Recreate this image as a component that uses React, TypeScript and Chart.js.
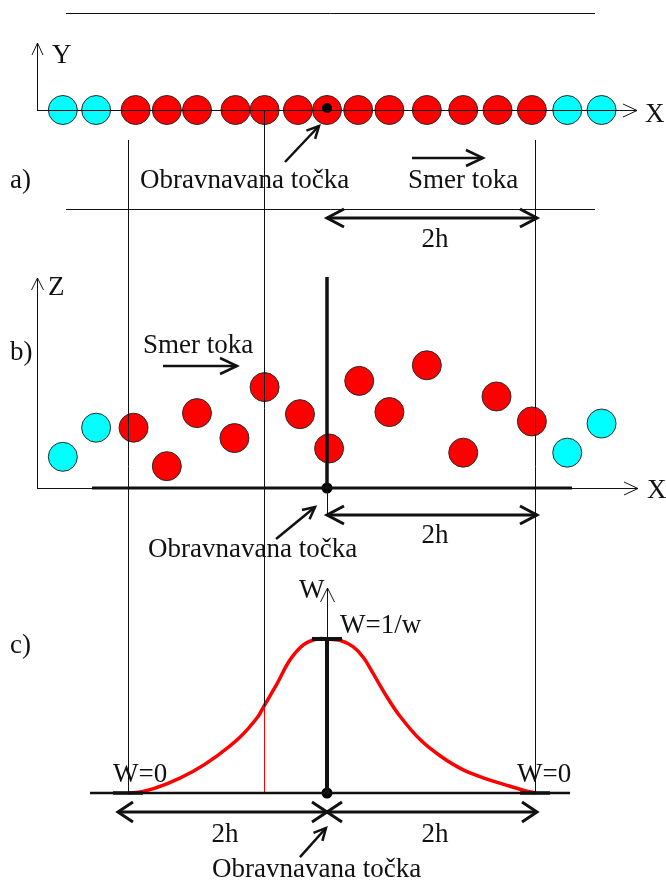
import { useEffect, useRef } from "react";
import { Chart, registerables } from "chart.js";

Chart.register(...registerables);

// Distances are in units of the smoothing length h; the evaluated point sits at x = 0.

// a) particles lying on the X axis
const lineParticlesX = [-2.54, -2.22, -1.84, -1.54, -1.25, -0.88, -0.6, -0.28, 0, 0.3, 0.6, 0.96, 1.31, 1.64, 1.97, 2.31, 2.64];

// b) particles scattered in the X–Z plane
const planeParticlesX = [-2.54, -2.22, -1.86, -1.54, -1.25, -0.89, -0.6, -0.26, 0.02, 0.31, 0.6, 0.96, 1.31, 1.63, 1.97, 2.31, 2.64];
const planeParticlesZ = [0.3, 0.58, 0.58, 0.21, 0.72, 0.48, 0.97, 0.71, 0.38, 1.03, 0.73, 1.18, 0.34, 0.88, 0.64, 0.34, 0.62];

// c) smoothing kernel W(x), normalised so that the peak equals 1/w
const kernelX = [-1.91, -1.77, -1.54, -1.29, -1.06, -0.84, -0.67, -0.61, -0.48, -0.36, -0.23, -0.1, 0, 0.13, 0.25, 0.35, 0.44, 0.58, 0.7, 0.89, 1.09, 1.31, 1.54, 1.73, 1.88, 2.0];
const kernelW = [0, 0.01, 0.06, 0.14, 0.24, 0.36, 0.49, 0.56, 0.71, 0.86, 0.96, 1.0, 1.0, 0.99, 0.95, 0.88, 0.78, 0.62, 0.5, 0.35, 0.24, 0.15, 0.09, 0.05, 0.02, 0];

// Support of the kernel and the extra guide line
const supportLeft = -1.91;
const supportRight = 2.0;
const innerGuideX = -0.61;

const RED = "#ff0000";
const CYAN = "#00ffff";
const INK = "#111111";
const FONT = '27px "Liberation Serif", "Times New Roman", serif';

type Panel = "a" | "b" | "c";
const panelScale: Record<Panel, string> = { a: "ya", b: "yb", c: "yc" };

type Seg = {
  p: Panel;
  x1: number; y1: number; x2: number; y2: number;
  w: number;
  head?: [number, number];
  both?: boolean;
};

const segments: Seg[] = [
  // a)
  { p: "a", x1: -2.51, y1: 0.933, x2: 2.577, y2: 0.933, w: 1 },
  { p: "a", x1: -2.51, y1: -0.952, x2: 2.577, y2: -0.952, w: 1 },
  { p: "a", x1: -2.788, y1: 0, x2: -2.788, y2: 0.644, w: 1, head: [12, 5.5] },
  { p: "a", x1: -2.788, y1: 0, x2: 2.981, y2: 0, w: 1, head: [14, 6.5] },
  { p: "a", x1: -0.404, y1: -0.5, x2: -0.077, y2: -0.154, w: 2.5, head: [12, 6] },
  { p: "a", x1: 0.817, y1: -0.462, x2: 1.5, y2: -0.462, w: 2.5, head: [17, 8] },
  { p: "a", x1: 0, y1: -1.038, x2: 2.019, y2: -1.038, w: 3, head: [17, 9], both: true },
  // b)
  { p: "b", x1: -2.788, y1: 0, x2: -2.788, y2: 2.019, w: 1, head: [12, 6] },
  { p: "b", x1: -2.788, y1: 0, x2: 2.99, y2: 0, w: 1, head: [14, 6.5] },
  { p: "b", x1: -2.26, y1: 0, x2: 2.356, y2: 0, w: 3 },
  { p: "b", x1: 0, y1: 0, x2: 0, y2: 2.029, w: 3.5 },
  { p: "b", x1: 0, y1: 0, x2: 0, y2: -0.26, w: 1 },
  { p: "b", x1: 0, y1: -0.26, x2: 2.019, y2: -0.26, w: 3, head: [17, 9], both: true },
  { p: "b", x1: -1.577, y1: 1.173, x2: -0.865, y2: 1.173, w: 2.5, head: [17, 8] },
  { p: "b", x1: -0.49, y1: -0.49, x2: -0.115, y2: -0.183, w: 2.5, head: [12, 6] },
  // c)
  { p: "c", x1: -2.279, y1: 0, x2: 2.337, y2: 0, w: 2.5 },
  { p: "c", x1: -2.058, y1: 0, x2: -1.769, y2: 0, w: 3.5 },
  { p: "c", x1: 1.856, y1: 0, x2: 2.144, y2: 0, w: 3.5 },
  { p: "c", x1: 0, y1: 0, x2: 0, y2: 1.331, w: 1, head: [14, 7] },
  { p: "c", x1: 0, y1: 0, x2: 0, y2: 1, w: 4 },
  { p: "c", x1: -0.144, y1: 1, x2: 0.144, y2: 1, w: 4 },
  { p: "c", x1: -2.01, y1: -0.123, x2: 0, y2: -0.123, w: 3, head: [15, 10], both: true },
  { p: "c", x1: 0, y1: -0.123, x2: 2.019, y2: -0.123, w: 3, head: [15, 10], both: true },
  { p: "c", x1: -0.26, y1: -0.416, x2: -0.01, y2: -0.227, w: 2.5, head: [12, 6] },
];

type Label = { p: Panel; x: number; y: number; t: string; center?: boolean };

const labels: Label[] = [
  { p: "a", x: -2.644, y: 0.452, t: "Y" },
  { p: "a", x: 3.058, y: -0.115, t: "X" },
  { p: "a", x: -3.048, y: -0.75, t: "a)" },
  { p: "a", x: -1.798, y: -0.75, t: "Obravnavana točka" },
  { p: "a", x: 0.779, y: -0.75, t: "Smer toka" },
  { p: "a", x: 1.038, y: -1.317, t: "2h", center: true },
  { p: "b", x: -2.683, y: 1.856, t: "Z" },
  { p: "b", x: 3.077, y: -0.096, t: "X" },
  { p: "b", x: -3.048, y: 1.231, t: "b)" },
  { p: "b", x: -1.769, y: 1.298, t: "Smer toka" },
  { p: "b", x: 1.038, y: -0.529, t: "2h", center: true },
  { p: "b", x: -1.721, y: -0.663, t: "Obravnavana točka" },
  { p: "c", x: -0.269, y: 1.266, t: "W" },
  { p: "c", x: 0.125, y: 1.039, t: "W=1/w" },
  { p: "c", x: -3.048, y: 0.909, t: "c)" },
  { p: "c", x: -2.058, y: 0.071, t: "W=0" },
  { p: "c", x: 1.827, y: 0.071, t: "W=0" },
  { p: "c", x: -0.981, y: -0.318, t: "2h", center: true },
  { p: "c", x: 1.038, y: -0.318, t: "2h", center: true },
  { p: "c", x: -1.106, y: -0.545, t: "Obravnavana točka" },
];

const particleColour = (x: number) => (x >= supportLeft && x <= supportRight ? RED : CYAN);

function drawHead(ctx: CanvasRenderingContext2D, fx: number, fy: number, tx: number, ty: number, len: number, half: number) {
  const dx = tx - fx;
  const dy = ty - fy;
  const d = Math.hypot(dx, dy) || 1;
  const ux = dx / d;
  const uy = dy / d;
  const bx = tx - ux * len;
  const by = ty - uy * len;
  ctx.beginPath();
  ctx.moveTo(bx - uy * half, by + ux * half);
  ctx.lineTo(tx, ty);
  ctx.lineTo(bx + uy * half, by - ux * half);
  ctx.stroke();
}

const diagramLayer = {
  id: "diagramLayer",
  afterDatasetsDraw(chart: any) {
    const ctx: CanvasRenderingContext2D = chart.ctx;
    const X = (v: number) => chart.scales.x.getPixelForValue(v);
    const Y = (p: Panel, v: number) => chart.scales[panelScale[p]].getPixelForValue(v);

    ctx.save();
    ctx.strokeStyle = INK;
    ctx.lineCap = "butt";
    ctx.lineJoin = "miter";

    // guide lines bounding the kernel support, running through all three panels
    const guideTop = -0.288;
    ctx.lineWidth = 1;
    for (const gx of [supportLeft, supportRight]) {
      ctx.beginPath();
      ctx.moveTo(Math.round(X(gx)) + 0.5, Y("a", guideTop));
      ctx.lineTo(Math.round(X(gx)) + 0.5, Y("c", 0));
      ctx.stroke();
    }
    const gi = Math.round(X(innerGuideX)) + 0.5;
    const wAtGuide = kernelW[kernelX.indexOf(innerGuideX)];
    ctx.beginPath();
    ctx.moveTo(gi, Y("a", 0));
    ctx.lineTo(gi, Y("c", wAtGuide));
    ctx.stroke();
    ctx.strokeStyle = RED;
    ctx.beginPath();
    ctx.moveTo(gi, Y("c", wAtGuide));
    ctx.lineTo(gi, Y("c", 0));
    ctx.stroke();
    ctx.strokeStyle = INK;

    for (const s of segments) {
      const x1 = X(s.x1), y1 = Y(s.p, s.y1), x2 = X(s.x2), y2 = Y(s.p, s.y2);
      ctx.lineWidth = s.w;
      const crisp = s.w === 1 ? 0.5 : 0;
      const sx1 = x1 === x2 ? Math.round(x1) + crisp : x1;
      const sy1 = y1 === y2 ? Math.round(y1) + crisp : y1;
      const sx2 = x1 === x2 ? Math.round(x2) + crisp : x2;
      const sy2 = y1 === y2 ? Math.round(y2) + crisp : y2;
      ctx.beginPath();
      ctx.moveTo(sx1, sy1);
      ctx.lineTo(sx2, sy2);
      ctx.stroke();
      if (s.head) {
        drawHead(ctx, sx1, sy1, sx2, sy2, s.head[0], s.head[1]);
        if (s.both) drawHead(ctx, sx2, sy2, sx1, sy1, s.head[0], s.head[1]);
      }
    }

    ctx.fillStyle = INK;
    ctx.font = FONT;
    ctx.textBaseline = "alphabetic";
    for (const l of labels) {
      ctx.textAlign = l.center ? "center" : "left";
      ctx.fillText(l.t, X(l.x), Y(l.p, l.y));
    }
    ctx.restore();
  },
};

export default function App() {
  const canvasRef = useRef<HTMLCanvasElement | null>(null);

  useEffect(() => {
    const canvas = canvasRef.current;
    if (!canvas) return;

    const particleStyle = {
      pointRadius: 14.5,
      pointBorderColor: "#2a2a2a",
      pointBorderWidth: 1,
      pointHoverRadius: 14.5,
    };

    const chart = new Chart(canvas, {
      type: "scatter",
      data: {
        datasets: [
          {
            label: "Obravnavana točka (a)",
            data: [{ x: 0, y: 0.02 }],
            yAxisID: "ya",
            pointRadius: 5,
            pointBackgroundColor: "#000",
            pointBorderColor: "#000",
            pointBorderWidth: 0,
            order: 1,
          },
          {
            label: "Obravnavana točka (b)",
            data: [{ x: 0, y: 0 }],
            yAxisID: "yb",
            pointRadius: 5.5,
            pointBackgroundColor: "#000",
            pointBorderColor: "#000",
            pointBorderWidth: 0,
            order: 1,
          },
          {
            label: "Obravnavana točka (c)",
            data: [{ x: 0, y: 0 }],
            yAxisID: "yc",
            pointRadius: 5.5,
            pointBackgroundColor: "#000",
            pointBorderColor: "#000",
            pointBorderWidth: 0,
            order: 1,
          },
          {
            type: "line",
            label: "W",
            data: kernelX.map((x, i) => ({ x, y: kernelW[i] })),
            xAxisID: "x",
            yAxisID: "yc",
            borderColor: RED,
            borderWidth: 3.5,
            pointRadius: 0,
            fill: false,
            tension: 0.35,
            order: 2,
          },
          {
            label: "Delci X",
            data: lineParticlesX.map((x) => ({ x, y: 0 })),
            yAxisID: "ya",
            pointBackgroundColor: lineParticlesX.map(particleColour),
            ...particleStyle,
            order: 3,
          },
          {
            label: "Delci XZ",
            data: planeParticlesX.map((x, i) => ({ x, y: planeParticlesZ[i] })),
            yAxisID: "yb",
            pointBackgroundColor: planeParticlesX.map(particleColour),
            ...particleStyle,
            order: 3,
          },
        ],
      } as any,
      options: {
        responsive: false,
        maintainAspectRatio: false,
        animation: false,
        events: [],
        layout: { padding: 0, autoPadding: false },
        plugins: {
          legend: { display: false },
          tooltip: { enabled: false },
        },
        scales: {
          x: { type: "linear", display: false, min: -3.1442, max: 3.2596, bounds: "data" },
          ya: { type: "linear", display: false, min: -7.4135, max: 1.0577, bounds: "data" },
          yb: { type: "linear", display: false, min: -3.7788, max: 4.6923, bounds: "data" },
          yc: { type: "linear", display: false, min: -0.5714, max: 5.1494, bounds: "data" },
        },
      } as any,
      plugins: [diagramLayer],
    });

    return () => chart.destroy();
  }, []);

  return (
    <div style={{ position: "absolute", left: 0, top: 0, width: 666, height: 881, background: "#fff" }}>
      <canvas ref={canvasRef} width={666} height={881} style={{ display: "block", width: 666, height: 881 }} />
    </div>
  );
}
